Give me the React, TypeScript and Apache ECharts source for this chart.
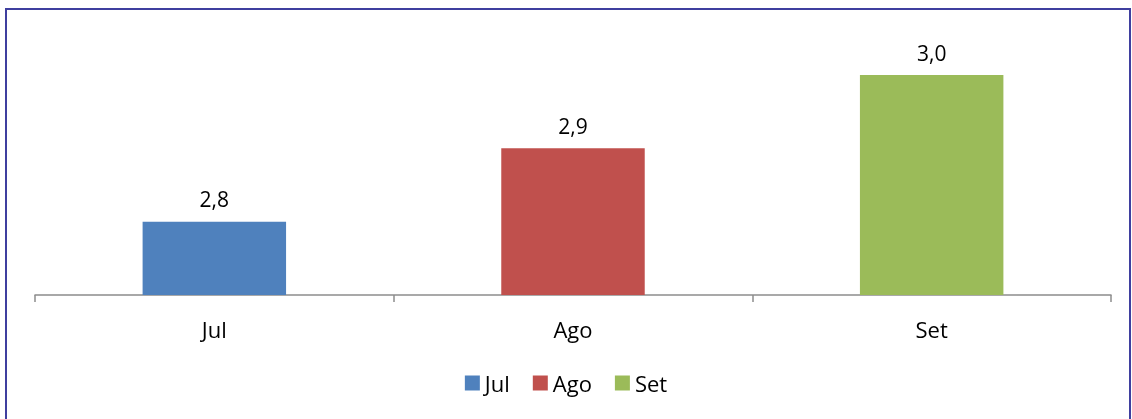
import React, { useEffect, useRef } from "react";
import * as echarts from "echarts";

const categories = ["Jul", "Ago", "Set"];
const values = [2.8, 2.9, 3.0];
const colors = ["#4F81BD", "#C0504D", "#9BBB59"];

export default function App() {
  const ref = useRef<HTMLDivElement>(null);
  useEffect(() => {
    if (!ref.current) return;
    const chart = echarts.init(ref.current, undefined, { renderer: "svg" });
    const font = "Open Sans";
    const series = categories.map((name, i) => ({
      name,
      type: "bar",
      stack: "all",
      barCategoryGap: "60%",
      data: categories.map((_, j) => (j === i ? values[i] : "-")),
      itemStyle: { color: colors[i] },
      label: {
        show: true,
        position: "top",
        distance: 12,
        color: "#000",
        fontFamily: font,
        fontSize: 21,
        formatter: (p: any) => Number(p.value).toFixed(1).replace(".", ","),
      },
    }));
    chart.setOption({
      animation: false,
      grid: { left: 35, right: 21, top: 75, bottom: 124 },
      legend: {
        data: categories,
        bottom: 20,
        left: "center",
        icon: "rect",
        itemWidth: 15,
        itemHeight: 15,
        itemGap: 23,
        textStyle: { fontFamily: font, fontSize: 22, color: "#000" },
      },
      xAxis: {
        type: "category",
        data: categories,
        axisLine: { lineStyle: { color: "#8C8C8C", width: 1.5 } },
        axisTick: { show: true, length: 7, lineStyle: { color: "#8C8C8C", width: 1.5 } },
        axisLabel: { color: "#000", fontFamily: font, fontSize: 22, margin: 23 },
      },
      yAxis: {
        type: "value",
        min: 2.7,
        max: 3.0,
        show: false,
        splitLine: { show: false },
      },
      graphic: [
        {
          type: "rect",
          shape: { x: 6, y: 9, width: 1124, height: 420 },
          style: { fill: "none", stroke: "#3F3F9F", lineWidth: 2 },
          silent: true,
        },
      ],
      series,
    });
    return () => chart.dispose();
  }, []);
  return (
    <div
      ref={ref}
      style={{ position: "fixed", left: 0, top: 0, width: 1132, height: 419 }}
    />
  );
}
